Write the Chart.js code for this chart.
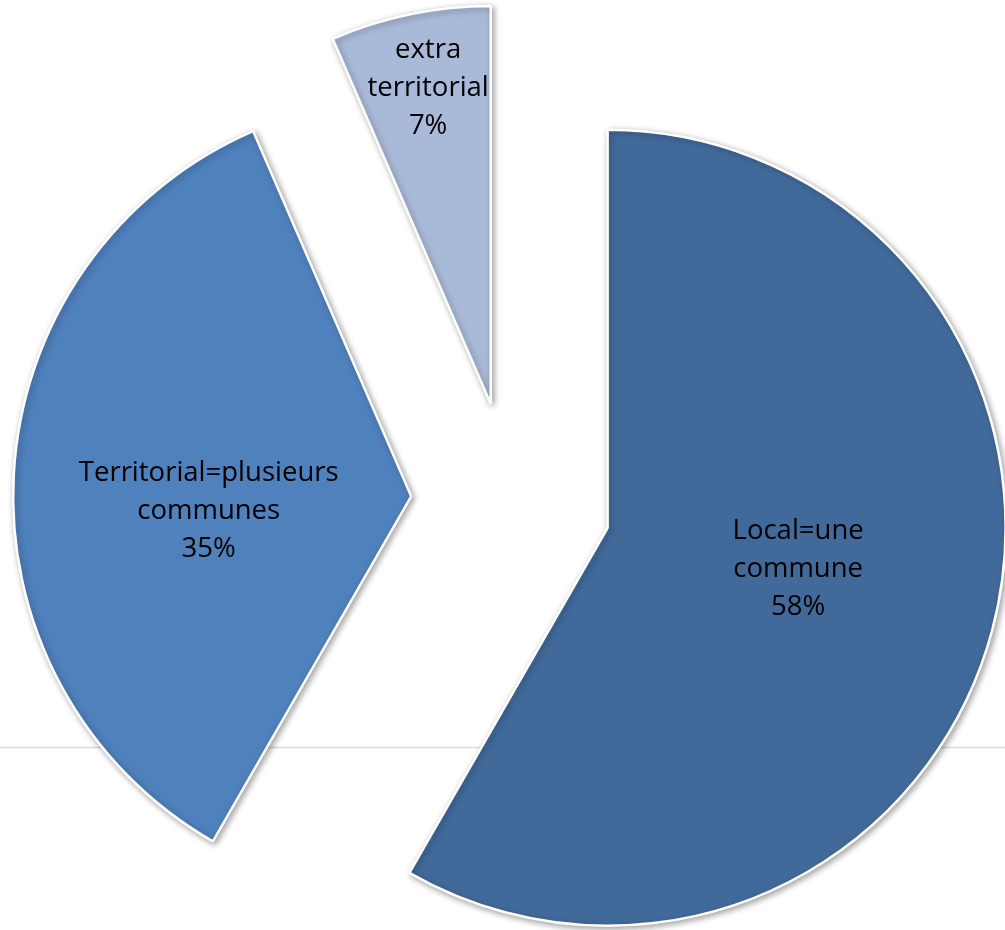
<!DOCTYPE html>
<html lang="fr">
<head>
<meta charset="utf-8">
<title>Répartition des projets</title>
<script src="https://cdn.jsdelivr.net/npm/chart.js@4.4.1/dist/chart.umd.min.js"></script>
<style>
    html, body { margin: 0; padding: 0; background: #fff; }
    #wrap { width: 1005px; height: 930px; position: relative; }
</style>
</head>
<body>
<div id="wrap"><canvas id="pieChart"></canvas></div>
<script>
// Data
const categories = [['Local=une', 'commune'], ['Territorial=plusieurs', 'communes'], ['extra', 'territorial']];
const values = [58.3, 35.2, 6.5];
const sliceColors = ['#416a9b', '#4f81bd', '#a9bad8'];

// where each label sits: fraction of the radius, small turn in degrees
const labelRadius = [0.49, 0.51, 0.81];
const labelTurn = [-2.6, -7.4, 0.5];

const RADIUS = 398;
const EXPLODE = 100;

function sliceShift(arc) {
    const mid = (arc.startAngle + arc.endAngle) / 2;
    return { dx: Math.cos(mid) * EXPLODE, dy: Math.sin(mid) * EXPLODE };
}

// Faint slide rule behind the chart
const backdropPlugin = {
    id: 'backdrop',
    beforeDraw(chart) {
        const ctx = chart.ctx;
        ctx.save();
        ctx.fillStyle = '#ffffff';
        ctx.fillRect(0, 0, chart.width, chart.height);
        ctx.strokeStyle = '#dddbd7';
        ctx.lineWidth = 1.5;
        ctx.beginPath();
        ctx.moveTo(0, 747.5);
        ctx.lineTo(chart.width, 747.5);
        ctx.stroke();
        ctx.restore();
    }
};

// Pull every slice out along its own middle angle, with a soft shadow
const explodePlugin = {
    id: 'explode',
    beforeDatasetDraw(chart, args) {
        args.meta.data.forEach(arc => {
            arc.$shift = sliceShift(arc);
            arc.x += arc.$shift.dx;
            arc.y += arc.$shift.dy;
        });
        const ctx = chart.ctx;
        ctx.save();
        ctx.shadowColor = 'rgba(0, 0, 0, 0.35)';
        ctx.shadowBlur = 6;
        ctx.shadowOffsetX = 2;
        ctx.shadowOffsetY = 2;
    },
    afterDatasetDraw(chart, args) {
        chart.ctx.restore();
        args.meta.data.forEach(arc => {
            arc.x -= arc.$shift.dx;
            arc.y -= arc.$shift.dy;
        });
    }
};

// Category name + percentage inside each slice
const labelPlugin = {
    id: 'sliceLabels',
    afterDatasetsDraw(chart) {
        const meta = chart.getDatasetMeta(0);
        const ctx = chart.ctx;
        const total = values.reduce((a, b) => a + b, 0);
        ctx.save();
        ctx.font = '27.5px "Open Sans"';
        ctx.fillStyle = '#000000';
        ctx.textAlign = 'center';
        ctx.textBaseline = 'middle';
        meta.data.forEach((arc, i) => {
            const s = sliceShift(arc);
            const mid = (arc.startAngle + arc.endAngle) / 2 + labelTurn[i] * Math.PI / 180;
            const r = arc.outerRadius * labelRadius[i];
            const lx = arc.x + s.dx + Math.cos(mid) * r;
            const ly = arc.y + s.dy + Math.sin(mid) * r;
            const lines = categories[i].concat(Math.round(values[i] * 100 / total + 1e-9) + '%');
            const lh = 38;
            lines.forEach((t, k) => {
                ctx.fillText(t, lx, ly + (k - (lines.length - 1) / 2) * lh);
            });
        });
        ctx.restore();
    }
};

document.addEventListener('DOMContentLoaded', () => {
    new Chart(document.getElementById('pieChart'), {
        type: 'pie',
        data: {
            labels: categories,
            datasets: [{
                data: values,
                backgroundColor: sliceColors,
                borderColor: '#ffffff',
                borderWidth: 2.5,
                clip: false
            }]
        },
        options: {
            responsive: true,
            maintainAspectRatio: false,
            animation: false,
            events: [],
            radius: RADIUS,
            layout: { padding: { left: 17, top: 74, right: 0, bottom: 0 } },
            plugins: {
                legend: { display: false },
                tooltip: { enabled: false }
            }
        },
        plugins: [backdropPlugin, explodePlugin, labelPlugin]
    });
});
</script>
</body>
</html>
